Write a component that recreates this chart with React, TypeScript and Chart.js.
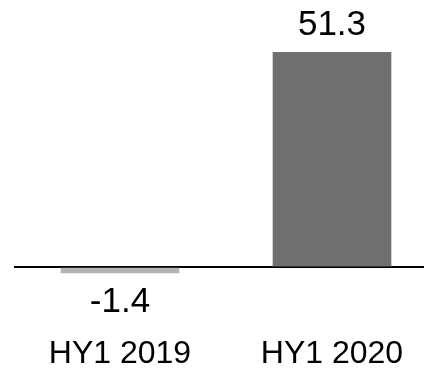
import React, { useEffect, useRef } from "react";
import { Chart, registerables } from "chart.js";

Chart.register(...registerables);

const categories = ["HY1 2019", "HY1 2020"];
const values = [-1.4, 51.3];
const barColors = ["#b3b3b3", "#6f6f6f"];
const valueLabels = ["-1.4", "51.3"];

const FONT = "'Liberation Sans', Arial, sans-serif";

const valueLabelPlugin = {
  id: "valueLabels",
  afterDatasetsDraw(chart: any) {
    const ctx = chart.ctx;
    const meta = chart.getDatasetMeta(0);
    ctx.save();
    ctx.font = `35px ${FONT}`;
    ctx.fillStyle = "#000";
    ctx.textAlign = "center";
    ctx.textBaseline = "middle";
    meta.data.forEach((bar: any, i: number) => {
      const v = values[i];
      const y = v >= 0 ? bar.y - 27 : bar.y + 29;
      ctx.fillText(valueLabels[i], bar.x, y);
    });
    ctx.restore();
  },
};

export default function App() {
  const ref = useRef<HTMLCanvasElement>(null);
  useEffect(() => {
    if (!ref.current) return;
    const chart = new Chart(ref.current, {
      type: "bar",
      data: {
        labels: categories,
        datasets: [
          {
            data: values,
            backgroundColor: barColors,
            borderWidth: 0,
            barThickness: 118,
          },
        ],
      },
      options: {
        animation: false,
        responsive: false,
        maintainAspectRatio: false,
        layout: { padding: { top: 52, left: 14, right: 2, bottom: 0 } },
        plugins: { legend: { display: false }, tooltip: { enabled: false } },
        scales: {
          x: {
            offset: true,
            grid: { display: false },
            border: { display: false },
            ticks: {
              color: "#000",
              padding: 10,
              font: { family: FONT, size: 32, lineHeight: 1 },
            },
          },
          y: {
            display: true,
            min: -12.63,
            max: 51.3,
            ticks: { display: false, stepSize: 100 },
            border: { display: false },
            grid: {
              drawTicks: false,
              lineWidth: 2,
              color: (c: any) => (c.tick && c.tick.value === 0 ? "#000" : "rgba(0,0,0,0)"),
            },
            afterBuildTicks: (scale: any) => {
              scale.ticks = [{ value: 0 }];
            },
            afterFit: (scale: any) => {
              scale.width = 0;
            },
          },
        },
      },
      plugins: [valueLabelPlugin],
    });
    return () => chart.destroy();
  }, []);
  return (
    <div style={{ position: "fixed", left: 0, top: 0, width: 424, height: 368, overflow: "hidden", background: "#fff" }}>
      <canvas ref={ref} width={440} height={380} style={{ display: "block", width: 440, height: 380 }} />
    </div>
  );
}
